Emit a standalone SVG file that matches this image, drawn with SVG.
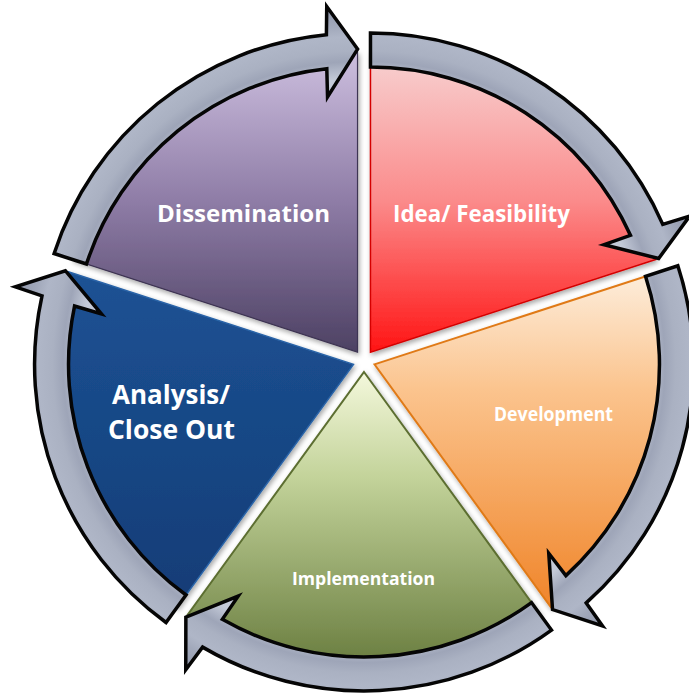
<svg xmlns="http://www.w3.org/2000/svg" width="689" height="698" viewBox="0 0 689 698">
<defs>
<style>
.lbl{font-family:"Open Sans","Noto Sans","Liberation Sans",sans-serif;font-weight:bold;fill:#ffffff;text-anchor:middle}
.arrow{fill:url(#gArrow);stroke:#050505;stroke-width:3.5;stroke-linejoin:miter}
.wedge{filter:url(#shadow)}
</style>
<filter id="shadow" x="-10%" y="-10%" width="120%" height="120%">
<feDropShadow dx="1.5" dy="2.5" stdDeviation="2.5" flood-color="#000" flood-opacity="0.35"/>
</filter>
<radialGradient id="gArrow" gradientUnits="userSpaceOnUse" cx="0" cy="0" r="350">
<stop offset="0.78" stop-color="#c4cad8"/>
<stop offset="0.83" stop-color="#9ea5b8"/>
<stop offset="0.86" stop-color="#aab1c2"/>
<stop offset="0.90" stop-color="#afb6c7"/>
<stop offset="0.93" stop-color="#a2a9bb"/>
<stop offset="1" stop-color="#8d94a8"/>
</radialGradient>
<linearGradient id="gRed" x1="0" y1="0" x2="0" y2="1">
<stop offset="0" stop-color="#f7d3d3"/>
<stop offset="0.5" stop-color="#fb8a8a"/>
<stop offset="1" stop-color="#ff1414"/>
</linearGradient>
<linearGradient id="gPurple" x1="0" y1="0" x2="0" y2="1">
<stop offset="0" stop-color="#cdbfdf"/>
<stop offset="0.5" stop-color="#8e7ca6"/>
<stop offset="1" stop-color="#4d4163"/>
</linearGradient>
<linearGradient id="gOrange" x1="0" y1="0" x2="0" y2="1">
<stop offset="0" stop-color="#fdeedd"/>
<stop offset="0.35" stop-color="#fbc48e"/>
<stop offset="1" stop-color="#f0852a"/>
</linearGradient>
<linearGradient id="gGreen" x1="0" y1="0" x2="0" y2="1">
<stop offset="0" stop-color="#f4f8dc"/>
<stop offset="0.35" stop-color="#c3d39a"/>
<stop offset="1" stop-color="#667a3c"/>
</linearGradient>
<linearGradient id="gBlue" x1="0" y1="0" x2="0" y2="1">
<stop offset="0" stop-color="#1d5294"/>
<stop offset="1" stop-color="#123c76"/>
</linearGradient>
<path id="arr" d="M319,0 A319,319 0 0 1 127.7,292.3 L136.1,319.2 L93.6,288.2 L107.4,233.5 L116.8,260.0 A285,285 0 0 0 285,0 Z"/>
</defs>
<rect width="689" height="698" fill="#ffffff"/>

<g id="purple-dissemination">
<path class="wedge" d="M357.53,352.10 L72.20,259.40 A300,300 0 0 1 357.53,52.10 Z" fill="url(#gPurple)" stroke="#3e3452" stroke-width="1.2"/>
<text class="lbl" x="243.5" y="222" font-size="24" textLength="173" lengthAdjust="spacingAndGlyphs">Dissemination</text>
</g>
<g id="red-idea">
<path class="wedge" d="M370.47,352.10 L370.47,52.10 A300,300 0 0 1 655.80,259.40 Z" fill="url(#gRed)" stroke="#d40000" stroke-width="1.5"/>
<text class="lbl" x="481.5" y="222" font-size="24" textLength="177" lengthAdjust="spacingAndGlyphs">Idea/ Feasibility</text>
</g>
<g id="orange-development">
<path class="wedge" d="M374.46,364.40 L659.79,271.70 A300,300 0 0 1 550.80,607.10 Z" fill="url(#gOrange)" stroke="#e07a18" stroke-width="2"/>
<text class="lbl" x="553.5" y="421" font-size="19" textLength="119" lengthAdjust="spacingAndGlyphs">Development</text>
</g>
<g id="green-implementation">
<path class="wedge" d="M364,372 L540.34,614.70 A300,300 0 0 1 187.66,614.70 Z" fill="url(#gGreen)" stroke="#5c6e30" stroke-width="2"/>
<text class="lbl" x="363.5" y="585" font-size="18" textLength="143" lengthAdjust="spacingAndGlyphs">Implementation</text>
</g>
<g id="blue-analysis">
<path class="wedge" d="M353.54,364.40 L177.20,607.10 A300,300 0 0 1 68.21,271.70 Z" fill="url(#gBlue)" stroke="#2a64a8" stroke-width="1.5"/>
<text class="lbl" x="171" y="404" font-size="27" textLength="118" lengthAdjust="spacingAndGlyphs">Analysis/</text>
<text class="lbl" x="171.5" y="439" font-size="27" textLength="127" lengthAdjust="spacingAndGlyphs">Close Out</text>
</g>

<g id="connectors">
<g transform="translate(370.47,352.10) rotate(-90)"><use href="#arr" class="arrow"/></g>
<g transform="translate(374.46,364.40) rotate(-18)"><use href="#arr" class="arrow"/></g>
<g transform="translate(364,372) rotate(54)"><use href="#arr" class="arrow"/></g>
<g transform="translate(353.54,364.40) rotate(126)"><use href="#arr" class="arrow"/></g>
<g transform="translate(357.53,352.10) rotate(198)"><use href="#arr" class="arrow"/></g>
</g>
</svg>
